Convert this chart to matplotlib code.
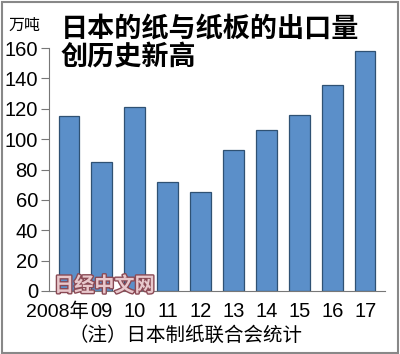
import matplotlib
matplotlib.use("Agg")
import matplotlib.pyplot as plt
from matplotlib.patches import Rectangle
import matplotlib.patheffects as pe

categories = ["2008年", "09", "10", "11", "12", "13", "14", "15", "16", "17"]
values = [115, 85, 121, 72, 65, 93, 106, 116, 136, 158]
yticks = [0, 20, 40, 60, 80, 100, 120, 140, 160]

plt.rcParams['font.family'] = ['Liberation Sans', 'Noto Sans CJK SC', 'DejaVu Sans']

fig = plt.figure(figsize=(4.0, 3.54), dpi=100)
ax = fig.add_axes([0.1225, 0.178, 0.84, 0.686])

x = list(range(len(categories)))
ax.bar(x, values, width=0.62, color="#5b8fc9", edgecolor="#2f5173", linewidth=0.9, zorder=2)

ax.set_xlim(-0.6, len(categories) - 0.4)
ax.set_ylim(0, 160)
ax.set_yticks(yticks)
ax.set_yticklabels([str(v) for v in yticks], fontsize=14.5)
ax.set_xticks(x)
ax.set_xticklabels([""] + categories[1:], fontsize=14.5)
# first label shifted left as in the reference
ax.annotate(categories[0], xy=(x[0], 0), xycoords=("data", "axes fraction"),
            xytext=(-8.2, -8.3), textcoords="offset points",
            ha="center", va="top", fontsize=14)

for s in ["top", "right"]:
    ax.spines[s].set_visible(False)
ax.spines["left"].set_color("#777777")
ax.spines["bottom"].set_color("#777777")
ax.spines["left"].set_bounds(0, 160)
ax.tick_params(axis="y", length=6, color="#777777", pad=2)
ax.tick_params(axis="x", length=0, pad=8.0)

cjk = ['Noto Sans CJK SC', 'DejaVu Sans']
fig.text(0.152, 0.96, "日本的纸与纸板的出口量", fontsize=19.5, fontweight="bold", family=cjk, va="top", ha="left")
fig.text(0.152, 0.878, "创历史新高", fontsize=19.5, fontweight="bold", family=cjk, va="top", ha="left")
fig.text(0.02, 0.952, "万吨", fontsize=11.5, family=cjk, va="top", ha="left")
fig.text(0.17, 0.022, "（注）日本制纸联合会统计", fontsize=14, family=cjk, va="bottom", ha="left")

wm = fig.text(0.135, 0.165, "日经中文网", fontsize=14.5, fontweight="bold", family=cjk,
              color="#e8c8cc", va="bottom", ha="left", zorder=5)
wm.set_path_effects([pe.withStroke(linewidth=2, foreground="#8a4a55")])

fig.patches.append(Rectangle((0.004, 0.004), 0.99, 0.99, transform=fig.transFigure,
                             fill=False, edgecolor="#888888", linewidth=1.5))

fig.savefig("out.png", dpi=100)
